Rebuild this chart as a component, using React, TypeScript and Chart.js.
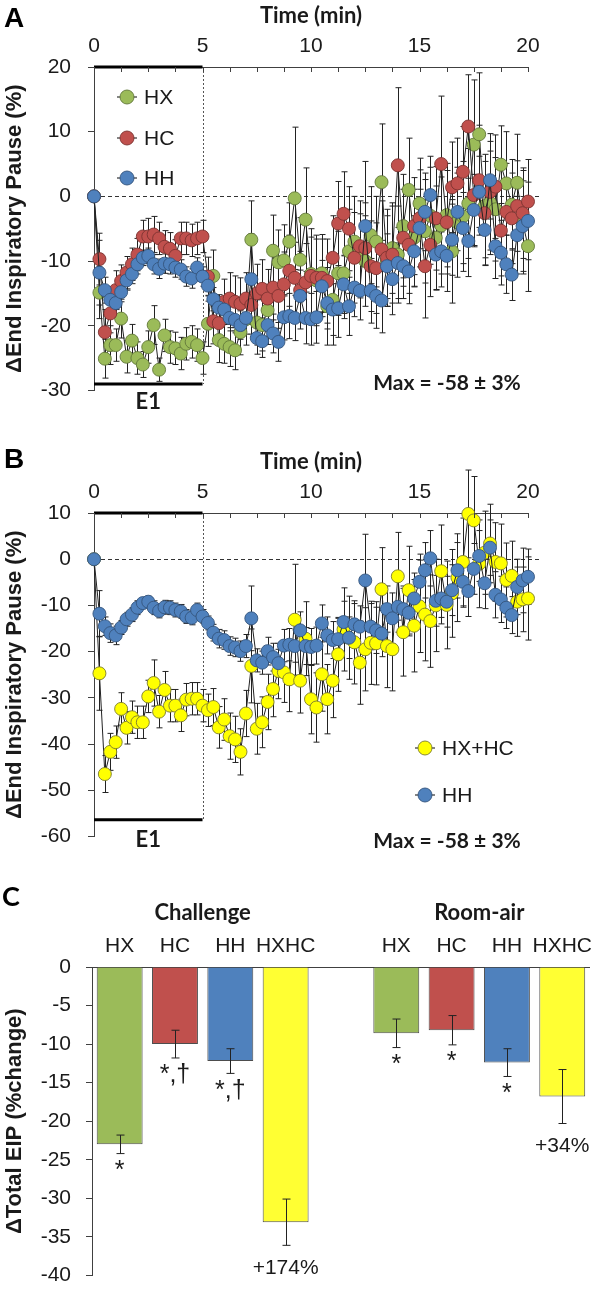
import React, { useEffect, useRef } from 'react';
import { Chart, registerables } from 'chart.js';

Chart.register(...registerables);

// ---------------- DATA ----------------
const TIME_MIN = [0,0.25,0.5,0.75,1,1.25,1.5,1.75,2,2.25,2.5,2.75,3,3.25,3.5,3.75,4,4.25,4.5,4.75,5,5.25,5.5,5.75,6,6.25,6.5,6.75,7,7.25,7.5,7.75,8,8.25,8.5,8.75,9,9.25,9.5,9.75,10,10.25,10.5,10.75,11,11.25,11.5,11.75,12,12.25,12.5,12.75,13,13.25,13.5,13.75,14,14.25,14.5,14.75,15,15.25,15.5,15.75,16,16.25,16.5,16.75,17,17.25,17.5,17.75,18,18.25,18.5,18.75,19,19.25,19.5,19.75,20];

const HX_A = [0,-14.9,-25.1,-23,-23,-18.9,-24.8,-22.3,-25,-26,-23.3,-19.9,-26.8,-21.5,-23.3,-23.5,-24.3,-22.8,-22.5,-23,-25,
-19.7,-12.3,-22.2,-22.8,-23.3,-23.8,-21,-19,-6.7,-19.5,-19.9,-17.6,-8.4,-10.2,-9.9,-7,-0.3,-9.8,-3.6,-12,
-13,-11.9,-17,-16,-11.9,-11.9,-8.5,-7,-9.2,-10,-6,-7,2.2,-10,-8,-9,-4.6,1,-6.4,-1.1,
-5.4,-3,-6.4,-4.5,-2.9,-8.5,-4,-3.1,-1.1,8,9.6,-1.5,-1,-2,4.9,2,-1.3,2.1,-4,-7.7];
const HX_A_ERR = [0,4,3,3,2.5,3,2.5,2.5,2.5,2,2.5,3,1.8,2.5,2.5,2.5,2.5,2.5,2.5,2.5,2.5,
3.5,4,3.5,3,3,3,3.5,4,6,3.5,4,4,5.5,5,5.5,6,11,6.5,8,7,
7,6,6,7,6.5,7,6.5,7,6.5,7,7.5,7,9,7,7,7.5,8,8,7.5,7,
8,7.5,8,7.5,8,8,8.5,8.5,8.5,10,9.5,8,8,8,6,8,7,7.5,8,7];

const HC_A = [0,-9.7,-21,-18.1,-14.5,-13.1,-11.8,-10.5,-9,-6.2,-6.2,-5.9,-6.5,-7.8,-8.1,-9.2,-6.5,-6.5,-6.8,-6.5,-6.2,
-12.4,-19.3,-19.6,-16.3,-15.8,-16.3,-16.6,-15.8,-16.8,-15,-14.3,-15.8,-14.1,-15.4,-13.6,-11.5,-12.6,-14.5,-13.3,-12.3,
-12.6,-12.6,-13.1,-9.5,-4.2,-2.7,-5,-9.5,-7.7,-8,-10.8,-11.1,-8.2,-9.5,-9,4.8,-6.4,-7.5,-4.6,-3.4,
-10.8,-7.5,-3.4,5,-4,1.4,2,3.8,10.8,0.2,2.5,-2.6,0.7,1.5,-5.3,-2.4,-3.4,-1.5,-2.6,-0.8];
const HC_A_ERR = [0,4,3.5,3,3,2.5,2.5,2.5,2.5,2.5,2.8,2.8,2.5,2.5,2.5,2.5,2.5,2.5,2.5,2.5,2.5,
3,3.5,3.5,3.5,4,4,4,4,4.5,4.5,4.5,4.5,5,5,5,5.5,5.5,6,6,6,
6,6,6.5,6.5,6.5,6.5,6.5,7,7,7,7,7,7.5,7.5,7.5,12,7.5,7.5,7.5,7.5,
8,8,8,10.5,8,7,7,7,8,8,8.5,8,9,8,7,7.5,7,7,7,6.5];

const HH = [0,-11.8,-14.5,-16,-16.5,-14.8,-13,-12,-10.5,-9.5,-9.2,-10.5,-11.2,-10.4,-10.5,-11,-11.3,-12.4,-12.7,-11,-12.4,
-13.8,-15.9,-17.2,-17.5,-18.8,-19.1,-19.9,-18.8,-12.8,-21.9,-22.4,-19.9,-21.2,-22.5,-18.7,-18.5,-18.8,-15.4,-18.8,-19,
-18.7,-13.9,-16.5,-17.5,-17.3,-13.6,-17,-14.1,-14.6,-4.6,-14.6,-15.4,-16.1,-10.8,-12.8,-10.3,-10.8,-11.6,-8.5,-4.9,
-2.4,0.2,-9,-8.5,-9.2,-6.7,-2.4,-4.9,-6.9,-2.1,0.7,-5.2,2.5,-7.7,-8.7,-10.5,-12.1,-6,-4.6,-3.8];
const HH_ERR = [0,5,2,2,2,1.5,1.5,1.5,1.5,1.2,1.2,1.5,1.5,1.5,1.5,1.5,1.5,1.5,1.5,1.5,1.5,
1.5,1.8,2,2,2,2,2.2,2.5,7,2.5,2.5,3,3,3,3.5,3.5,3.5,4,4,4,
4,4,4,4,4.5,4.5,4.5,4.5,4.5,10,5,5,5,5,5.5,5.5,5,5,5.5,6,
6,6,5.5,5.5,5.5,5.5,6,5.5,5.5,5.5,5.5,5.5,6,5,5,4.5,4,6,7,6];

const HXHC_B = [0,-24.7,-46.5,-41.7,-39.6,-32.4,-36.5,-34.2,-35.3,-35.3,-29.7,-26.8,-33,-28.3,-31.7,-31.7,-33.8,-30.4,-30.2,-30.2,-31.7,
-32.7,-32,-36.4,-34.7,-38.3,-39,-41.7,-33.4,-23.1,-36.7,-35.3,-30.9,-28.1,-24.2,-24.5,-26,-13.1,-26.3,-17.2,-30.3,
-32.1,-24.9,-30.3,-26.3,-20.6,-15.2,-17,-18,-22.4,-19.5,-18.1,-18.2,-6.5,-18.8,-19.5,-3.7,-15.8,-6.7,-14.4,-10.2,
-12,-13.4,-10,-2.6,-9.9,-7.4,-4,-0.6,9.8,8.4,-1,1.4,3.4,-0.6,-0.9,-4.5,-3.6,-9.2,-8.7,-8.5];
const HXHC_B_ERR = [0,8,4,4,3.5,3.5,3.5,3.5,3.5,3.5,3.5,5,3.5,4,3.5,3.5,3.5,3.5,3.5,3.5,3.5,
3.5,4,4.5,4.5,5,5,5,5,8,5.5,5.5,6,6,6,6.5,7,12,7,8,7.5,
7.5,8,7.5,8,8,9,9,9,9,9,9,9,9,9,9,9.5,9.5,9.5,10,10,
10,10,10,10,9.5,9.5,9.5,9.5,9.5,9.5,9.5,9,8.5,8.5,8.5,8,7.5,7.5,7,9];

const X_TICKS = [0,1.25,2.5,3.75,5,6.25,7.5,8.75,10,11.25,12.5,13.75,15,16.25,17.5,18.75,20];
const X_LABELED = [0,5,10,15,20];
const A_Y_TICKS = [-30,-20,-10,0,10,20];
const B_Y_TICKS = [-60,-50,-40,-30,-20,-10,0,10];
const E1_START = 0;
const E1_END = 5;

const C_CATEGORIES = ['HX','HC','HH','HXHC','','HX','HC','HH','HXHC'];
const CHALLENGE = [-23,-10,-12.2,-33.1];
const CHALLENGE_ERR = [1.2,1.8,1.6,3];
const CHALLENGE_SIG = ['*','*,†','*,†','+174%'];
const ROOM_AIR = [-8.6,-8.2,-12.4,-16.8];
const ROOM_AIR_ERR = [1.85,1.9,1.8,3.5];
const ROOM_AIR_SIG = ['*','*','*','+34%'];
const C_Y_TICKS = [0,-5,-10,-15,-20,-25,-30,-35,-40];

// ---------------- STYLE ----------------
const ARIAL = "'Liberation Sans', Arial, sans-serif";
const CAL = "Lato, 'Open Sans', sans-serif";
const GREEN = '#9BBB59';
const RED = '#C0504D';
const BLUE = '#4F81BD';
const YELLOW = '#FFFF00';
const AXIS = '#404040';
const INK = '#1a1a1a';

type Series = { label: string; values: number[]; errors: number[]; color: string; border: string; order: number };

const PANEL_A = {
  letter: 'A', letterY: 27, yMin: -30, yMax: 20, yTicks: A_Y_TICKS, e1Bar: -29, e1LabelY: 402, maxY: 383,
  legendX: 127, legendYs: [97, 138, 178],
  series: [
    { label: 'HX', values: HX_A, errors: HX_A_ERR, color: GREEN, border: '#62783a', order: 2 },
    { label: 'HC', values: HC_A, errors: HC_A_ERR, color: RED, border: '#7d3331', order: 1 },
    { label: 'HH', values: HH, errors: HH_ERR, color: BLUE, border: '#34557d', order: 0 },
  ] as Series[],
};
const PANEL_B = {
  letter: 'B', letterY: 22, yMin: -60, yMax: 10, yTicks: B_Y_TICKS, e1Bar: -56.4, e1LabelY: 394, maxY: 395,
  legendX: 425, legendYs: [302, 349],
  series: [
    { label: 'HX+HC', values: HXHC_B, errors: HXHC_B_ERR, color: YELLOW, border: '#7a7a30', order: 1 },
    { label: 'HH', values: HH, errors: HH_ERR, color: BLUE, border: '#34557d', order: 0 },
  ] as Series[],
};

function circle(ctx: CanvasRenderingContext2D, x: number, y: number, r: number, fill: string, stroke: string) {
  ctx.beginPath();
  ctx.arc(x, y, r, 0, Math.PI * 2);
  ctx.fillStyle = fill;
  ctx.fill();
  ctx.lineWidth = 0.9;
  ctx.strokeStyle = stroke;
  ctx.stroke();
}

function timePlugin(panel: any) {
  return {
    id: 'timeDecor',
    beforeDatasetsDraw(chart: any) {
      const { ctx, chartArea, scales } = chart;
      const x = scales.x, y = scales.y;
      ctx.save();
      const y0 = Math.round(y.getPixelForValue(0)) + 0.5;
      ctx.strokeStyle = '#333';
      ctx.lineWidth = 1;
      ctx.setLineDash([4, 3]);
      ctx.beginPath();
      ctx.moveTo(x.getPixelForValue(0), y0);
      ctx.lineTo(chartArea.right + 12, y0);
      ctx.stroke();
      const x5 = Math.round(x.getPixelForValue(E1_END)) + 0.5;
      ctx.setLineDash([2, 2]);
      ctx.strokeStyle = '#555';
      ctx.beginPath();
      ctx.moveTo(x5, chartArea.top);
      ctx.lineTo(x5, y.getPixelForValue(panel.e1Bar));
      ctx.stroke();
      ctx.setLineDash([]);
      ctx.strokeStyle = '#000';
      ctx.lineWidth = 3;
      ctx.beginPath();
      ctx.moveTo(x.getPixelForValue(E1_START), chartArea.top);
      ctx.lineTo(x.getPixelForValue(E1_END), chartArea.top);
      ctx.moveTo(x.getPixelForValue(E1_START), y.getPixelForValue(panel.e1Bar));
      ctx.lineTo(x.getPixelForValue(E1_END), y.getPixelForValue(panel.e1Bar));
      ctx.stroke();
      ctx.strokeStyle = '#222';
      ctx.lineWidth = 1;
      panel.series.forEach((s: Series, di: number) => {
        const meta = chart.getDatasetMeta(di);
        meta.data.forEach((pt: any, i: number) => {
          const e = s.errors[i];
          if (!e) return;
          const v = s.values[i];
          const px = Math.round(pt.x) + 0.5;
          const yt = y.getPixelForValue(v + e);
          const yb = y.getPixelForValue(v - e);
          ctx.beginPath();
          ctx.moveTo(px, yt); ctx.lineTo(px, yb);
          ctx.moveTo(px - 3, yt); ctx.lineTo(px + 3, yt);
          ctx.moveTo(px - 3, yb); ctx.lineTo(px + 3, yb);
          ctx.stroke();
        });
      });
      ctx.restore();
    },
    afterDraw(chart: any) {
      const { ctx, chartArea, scales } = chart;
      const x = scales.x;
      ctx.save();
      ctx.strokeStyle = AXIS;
      ctx.lineWidth = 1;
      x.ticks.forEach((t: any) => {
        const px = Math.round(x.getPixelForValue(t.value)) + 0.5;
        ctx.beginPath();
        ctx.moveTo(px, chartArea.top);
        ctx.lineTo(px, chartArea.top + 5);
        ctx.stroke();
      });
      panel.series.forEach((s: Series, i: number) => {
        const lx = panel.legendX, ly = panel.legendYs[i];
        ctx.strokeStyle = '#333';
        ctx.lineWidth = 1.2;
        ctx.beginPath();
        ctx.moveTo(lx - 10, ly); ctx.lineTo(lx + 10, ly);
        ctx.stroke();
        circle(ctx, lx, ly, 7, s.color, s.border);
        ctx.fillStyle = INK;
        ctx.font = `21px ${ARIAL}`;
        ctx.textAlign = 'left';
        ctx.textBaseline = 'middle';
        ctx.fillText(s.label, lx + 17, ly + 1);
      });
      ctx.fillStyle = INK;
      ctx.textAlign = 'center';
      ctx.textBaseline = 'middle';
      ctx.font = `bold 22px ${CAL}`;
      ctx.fillText('E1', x.getPixelForValue((E1_START + E1_END) / 2), panel.e1LabelY);
      ctx.font = `bold 21px ${CAL}`;
      ctx.fillText('Max = -58 ± 3%', 447, panel.maxY);
      ctx.font = `bold 28px ${ARIAL}`;
      ctx.textAlign = 'left';
      ctx.textBaseline = 'alphabetic';
      ctx.fillStyle = '#000';
      ctx.fillText(panel.letter, 4, panel.letterY);
      ctx.restore();
    },
  };
}

function makeTimeChart(canvas: HTMLCanvasElement, panel: any) {
  return new Chart(canvas, {
    type: 'line',
    data: {
      datasets: panel.series.map((s: Series) => ({
        label: s.label,
        data: TIME_MIN.map((t, i) => ({ x: t, y: s.values[i] })),
        showLine: true,
        borderColor: '#222',
        borderWidth: 1,
        tension: 0,
        pointRadius: 6.5,
        pointBackgroundColor: s.color,
        pointBorderColor: s.border,
        pointBorderWidth: 0.9,
        order: s.order,
        clip: false,
      })),
    },
    options: {
      responsive: false,
      animation: false,
      devicePixelRatio: 1,
      layout: { padding: { left: 0, right: 72, top: 0, bottom: 27 } },
      plugins: { legend: { display: false }, tooltip: { enabled: false } },
      scales: {
        x: {
          type: 'linear',
          position: 'top',
          min: 0,
          max: 20,
          afterBuildTicks: (s: any) => { s.ticks = X_TICKS.map((v) => ({ value: v })); },
          afterFit: (s: any) => { s.height = 67; },
          grid: { drawOnChartArea: false, drawTicks: false },
          border: { display: true, color: AXIS, width: 1 },
          ticks: {
            autoSkip: false, maxRotation: 0, padding: 8, color: INK,
            font: { family: ARIAL, size: 21 },
            callback: (v: any) => (X_LABELED.includes(v) ? String(v) : ''),
          },
          title: { display: true, text: 'Time (min)', color: INK, font: { family: CAL, size: 22, weight: 'bold' }, padding: { top: 3, bottom: 0 } },
        },
        y: {
          type: 'linear',
          min: panel.yMin,
          max: panel.yMax,
          afterBuildTicks: (s: any) => { s.ticks = panel.yTicks.map((v: number) => ({ value: v })); },
          afterFit: (s: any) => { s.width = 94; },
          grid: { drawOnChartArea: false, drawTicks: true, tickLength: 6, color: AXIS },
          border: { display: true, color: AXIS, width: 1 },
          ticks: { padding: 17, color: INK, font: { family: ARIAL, size: 21 } },
          title: { display: true, text: 'ΔEnd Inspiratory Pause (%)', color: INK, font: { family: ARIAL, size: 22, weight: 'bold' }, padding: { top: 2, bottom: 0 } },
        },
      },
    },
    plugins: [timePlugin(panel)],
  } as any);
}

const C_VALUES = [...CHALLENGE, null, ...ROOM_AIR];
const C_ERRS = [...CHALLENGE_ERR, 0, ...ROOM_AIR_ERR];
const C_SIGS = [...CHALLENGE_SIG, '', ...ROOM_AIR_SIG];
const C_COLORS = [GREEN, RED, BLUE, '#FFFF33', 'rgba(0,0,0,0)', GREEN, RED, BLUE, '#FFFF33'];

const barPlugin = {
  id: 'barDecor',
  afterDatasetsDraw(chart: any) {
    const { ctx, scales } = chart;
    const y = scales.y;
    const meta = chart.getDatasetMeta(0);
    ctx.save();
    C_VALUES.forEach((v, i) => {
      if (v === null) return;
      const bar = meta.data[i];
      const e = C_ERRS[i];
      const px = Math.round(bar.x) + 0.5;
      const yt = y.getPixelForValue((v as number) + e);
      const yb = y.getPixelForValue((v as number) - e);
      ctx.strokeStyle = '#222';
      ctx.lineWidth = 1;
      ctx.beginPath();
      ctx.moveTo(px, yt); ctx.lineTo(px, yb);
      ctx.moveTo(px - 4, yt); ctx.lineTo(px + 4, yt);
      ctx.moveTo(px - 4, yb); ctx.lineTo(px + 4, yb);
      ctx.stroke();
      const sig = C_SIGS[i];
      const isPct = sig.includes('%');
      ctx.fillStyle = INK;
      ctx.font = `${isPct ? 21 : 25}px ${ARIAL}`;
      ctx.textAlign = 'center';
      ctx.textBaseline = 'top';
      ctx.fillText(sig, bar.x, yb + (isPct ? 12 : 5));
    });
    ctx.font = `bold 22px ${CAL}`;
    ctx.textAlign = 'center';
    ctx.textBaseline = 'middle';
    ctx.fillText('Challenge', (meta.data[0].x + meta.data[3].x) / 2, 43);
    ctx.fillText('Room-air', (meta.data[5].x + meta.data[8].x) / 2, 43);
    ctx.font = `bold 27px ${CAL}`;
    ctx.textAlign = 'left';
    ctx.textBaseline = 'alphabetic';
    ctx.fillStyle = '#000';
    ctx.fillText('C', 2, 36);
    ctx.restore();
  },
};

function makeBarChart(canvas: HTMLCanvasElement) {
  return new Chart(canvas, {
    type: 'bar',
    data: {
      labels: C_CATEGORIES,
      datasets: [{
        data: C_VALUES,
        backgroundColor: C_COLORS,
        borderColor: '#4d4d4d',
        borderWidth: 1,
        barPercentage: 0.83,
        categoryPercentage: 1,
      }],
    },
    options: {
      responsive: false,
      animation: false,
      devicePixelRatio: 1,
      layout: { padding: { left: 0, right: 0, top: 0, bottom: 13 } },
      plugins: { legend: { display: false }, tooltip: { enabled: false } },
      scales: {
        x: {
          type: 'category',
          position: 'top',
          afterFit: (s: any) => { s.height = 97; },
          grid: { drawOnChartArea: false, drawTicks: false },
          border: { display: true, color: AXIS, width: 1 },
          ticks: { autoSkip: false, maxRotation: 0, padding: 8, color: INK, font: { family: ARIAL, size: 21 } },
        },
        y: {
          type: 'linear',
          min: -40,
          max: 0,
          afterBuildTicks: (s: any) => { s.ticks = C_Y_TICKS.map((v) => ({ value: v })); },
          afterFit: (s: any) => { s.width = 92; },
          grid: { drawOnChartArea: false, drawTicks: true, tickLength: 6, color: AXIS },
          border: { display: true, color: AXIS, width: 1 },
          ticks: { padding: 15, color: INK, font: { family: ARIAL, size: 21 } },
          title: { display: true, text: 'ΔTotal EIP (%change)', color: INK, font: { family: ARIAL, size: 22, weight: 'bold' }, padding: { top: 2, bottom: 0 } },
        },
      },
    },
    plugins: [barPlugin],
  } as any);
}

export default function App() {
  const refA = useRef<HTMLCanvasElement>(null);
  const refB = useRef<HTMLCanvasElement>(null);
  const refC = useRef<HTMLCanvasElement>(null);

  useEffect(() => {
    const charts = [
      makeTimeChart(refA.current as HTMLCanvasElement, PANEL_A),
      makeTimeChart(refB.current as HTMLCanvasElement, PANEL_B),
      makeBarChart(refC.current as HTMLCanvasElement),
    ];
    return () => charts.forEach((c) => c.destroy());
  }, []);

  return (
    <div style={{ position: 'absolute', left: 0, top: 0, width: 600, height: 1303, background: '#fff', overflow: 'hidden' }}>
      <canvas ref={refA} width={600} height={420} style={{ position: 'absolute', left: 0, top: 0, width: 600, height: 420 }} />
      <canvas ref={refB} width={600} height={420} style={{ position: 'absolute', left: 0, top: 446, width: 600, height: 420 }} />
      <canvas ref={refC} width={600} height={433} style={{ position: 'absolute', left: 0, top: 870, width: 600, height: 433 }} />
    </div>
  );
}
